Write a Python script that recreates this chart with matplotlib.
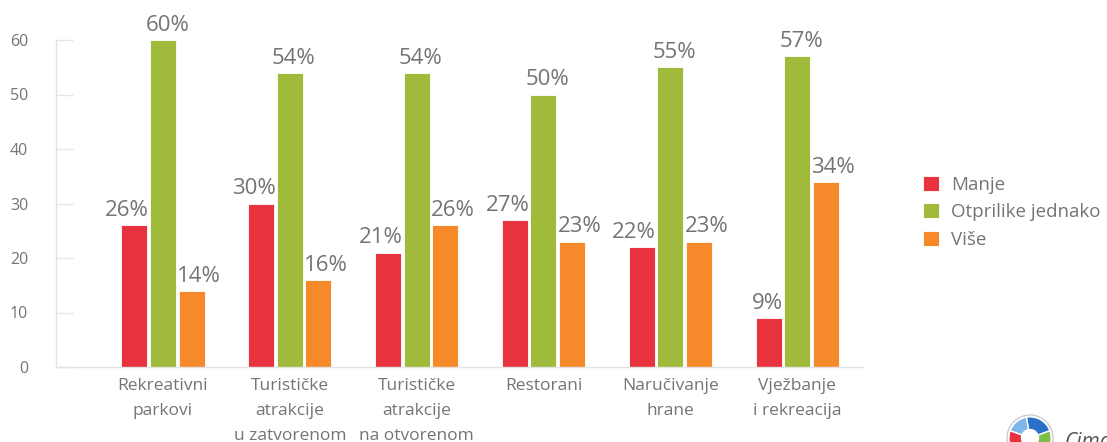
import matplotlib.pyplot as plt
import numpy as np
from matplotlib.patches import Circle, Wedge

plt.rcParams['font.family'] = ['Open Sans', 'DejaVu Sans']

categories = ["Rekreativni\nparkovi", "Turističke\natrakcije\nu zatvorenom",
              "Turističke\natrakcije\nna otvorenom", "Restorani",
              "Naručivanje\nhrane", "Vježbanje\ni rekreacija"]
manje = [26, 30, 21, 27, 22, 9]
jednako = [60, 54, 54, 50, 55, 57]
vise = [14, 16, 26, 23, 23, 34]
labels = ["Manje", "Otprilike jednako", "Više"]
colors = ["#E8333F", "#A0BA3B", "#F6892A"]
txt = "#747474"

fig = plt.figure(figsize=(11.07, 4.42), dpi=100)
ax = fig.add_axes([56/1107, 1-367/442, (863-56)/1107, (367-40)/442])

x = np.arange(len(categories))
w = 0.205
step = 0.225
series = [manje, jednako, vise]
for i, (vals, c, lbl) in enumerate(zip(series, colors, labels)):
    xs = x + (i-1)*step
    bars = ax.bar(xs, vals, w, color=c, label=lbl, edgecolor='#ffffff', lw=0.6)
    for b, v in zip(bars, vals):
        if i == 0:
            bx, ha, dx = b.get_x() + b.get_width(), 'right', 1
        elif i == 1:
            bx, ha, dx = b.get_x() + b.get_width()/2, 'center', 3
        else:
            bx, ha, dx = b.get_x(), 'left', -1
        ax.annotate(f"{v}%", (bx, v), xytext=(dx, 3), textcoords='offset points',
                    ha=ha, va='bottom', fontsize=16, color=txt, clip_on=False)

ax.set_xlim(-0.844, 5.52)
ax.set_ylim(0, 60)
ax.set_yticks(range(0, 61, 10))
ax.set_xticks(x)
ax.set_xticklabels(categories, fontsize=12.5, color=txt, linespacing=1.75, va='top')
ax.tick_params(axis='x', length=0, pad=8)
ax.tick_params(axis='y', direction='in', length=12, color='#e6e6e6', width=1,
               pad=20, labelsize=11.5, labelcolor=txt)
for s in ['top', 'right']:
    ax.spines[s].set_visible(False)
for s in ['left', 'bottom']:
    ax.spines[s].set_color('#e3e3e3')
    ax.spines[s].set_linewidth(1)

fig.legend(loc='upper left', bbox_to_anchor=(923/1107, 1-176/442), frameon=False,
           fontsize=13.5, labelcolor=txt, handlelength=0.85, handleheight=0.85,
           handletextpad=0.65, labelspacing=0.5, borderpad=0, borderaxespad=0)

# logo in the corner, partly cut off by the bottom edge
tr = fig.dpi_scale_trans
cx, cy, r = 10.30, 0.04, 0.23
for t1, t2, c in [(20, 100, '#2a6fc9'), (100, 160, '#7fb6ea'), (160, 220, '#e8333f'),
                  (220, 280, '#f6892a'), (280, 380, '#7bbf4a')]:
    fig.patches.append(Wedge((cx, cy), r*0.92, t1, t2, width=r*0.55, transform=tr,
                             facecolor=c, edgecolor='white', lw=1))
fig.patches.append(Circle((cx, cy), r, transform=tr, facecolor='none',
                          edgecolor='#cccccc', lw=1))
fig.text(1064/1107, 1-432/442, "Cima", fontsize=15, style='italic', color='#555555',
         va='top')

fig.savefig("out.png", dpi=100)
